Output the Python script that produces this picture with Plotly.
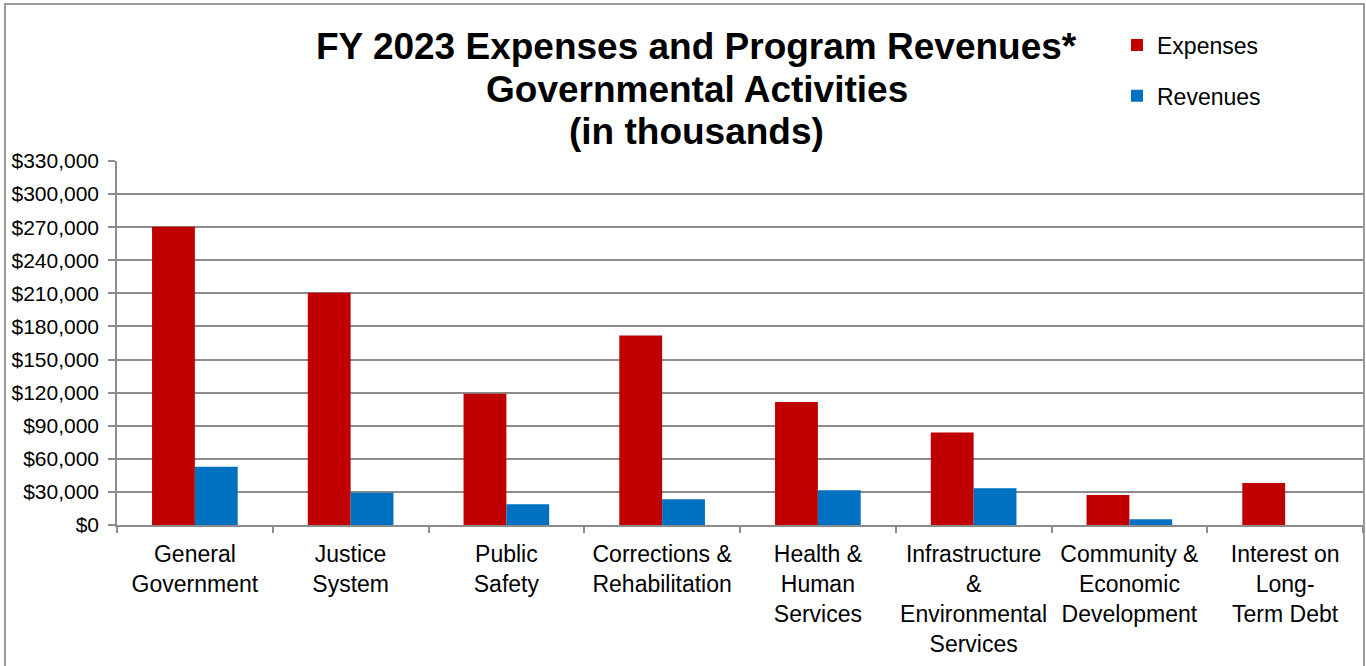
import plotly.graph_objects as go

categories = [
    "General Government", "Justice System", "Public Safety",
    "Corrections & Rehabilitation", "Health & Human Services",
    "Infrastructure & Environmental Services",
    "Community & Economic Development", "Interest on Long-Term Debt",
]
tick_labels = [
    "General<br>Government", "Justice<br>System", "Public<br>Safety",
    "Corrections &<br>Rehabilitation", "Health &<br>Human<br>Services",
    "Infrastructure<br>&<br>Environmental<br>Services",
    "Community &<br>Economic<br>Development", "Interest on<br>Long-<br>Term Debt",
]
expenses = [270400, 210600, 119000, 171900, 111500, 83800, 27300, 38000]
revenues = [52800, 29300, 18700, 23300, 31600, 33400, 5200, 0]
title_lines = [
    "FY 2023 Expenses and Program Revenues*",
    "Governmental Activities",
    "(in thousands)",
]

W, H = 1366, 666
L, R, T, B = 117, 3, 161, 141
PW, PH = W - L - R, H - T - B

FONT = "Arial, Liberation Sans, sans-serif"
GRID = "#8c8c8c"


def px_x(x):
    return (x - L) / PW


def px_y(y):
    return (H - B - y) / PH


fig = go.Figure()
fig.add_trace(go.Bar(x=categories, y=expenses, name="Expenses",
                     marker=dict(color="#C00000", line=dict(width=0)),
                     legendgroup="e"))
fig.add_trace(go.Bar(x=categories, y=revenues, name="Revenues",
                     marker=dict(color="#0070C0", line=dict(width=0)),
                     legendgroup="r"))

# outer chart frame
fig.add_shape(type="rect", xref="paper", yref="paper",
              x0=px_x(5), x1=px_x(1364), y0=px_y(700), y1=px_y(4),
              line=dict(color="#9a9a9a", width=2), fillcolor="rgba(0,0,0,0)",
              layer="below")

# three-line bold heading with tight line spacing
for line, yc in zip(title_lines, [46, 89, 131.5]):
    fig.add_annotation(text=f"<b>{line}</b>", xref="paper", yref="paper",
                       x=px_x(696.5), y=px_y(yc), xanchor="center",
                       yanchor="middle", showarrow=False,
                       font=dict(family=FONT, size=37, color="black"))

fig.update_layout(
    width=W, height=H,
    margin=dict(l=L, r=R, t=T, b=B, autoexpand=False),
    paper_bgcolor="white", plot_bgcolor="white",
    font=dict(family=FONT, size=23, color="black"),
    barmode="group", bargap=0.45, bargroupgap=0,
    legend=dict(
        x=px_x(1117), y=px_y(23.5), xanchor="left", yanchor="top",
        font=dict(family=FONT, size=23, color="black"),
        tracegroupgap=18, itemwidth=30, bgcolor="rgba(0,0,0,0)",
    ),
    xaxis=dict(
        tickmode="array", tickvals=categories, ticktext=tick_labels,
        tickson="boundaries", ticks="outside", ticklen=6, tickcolor=GRID,
        tickwidth=1.5, showline=True, linecolor=GRID, linewidth=1.5,
        showgrid=False, tickangle=0, ticklabelstandoff=8,
        tickfont=dict(family=FONT, size=23, color="black"),
    ),
    yaxis=dict(
        range=[0, 330000], dtick=30000, tick0=0,
        tickprefix="$", tickformat=",d",
        ticks="outside", ticklen=7, tickcolor=GRID, tickwidth=1.5,
        showline=True, linecolor=GRID, linewidth=1.5,
        showgrid=True, gridcolor=GRID, gridwidth=1.5,
        zeroline=False, ticklabelstandoff=5,
        tickfont=dict(family=FONT, size=21, color="black"),
    ),
)

fig.write_html("out.html")
